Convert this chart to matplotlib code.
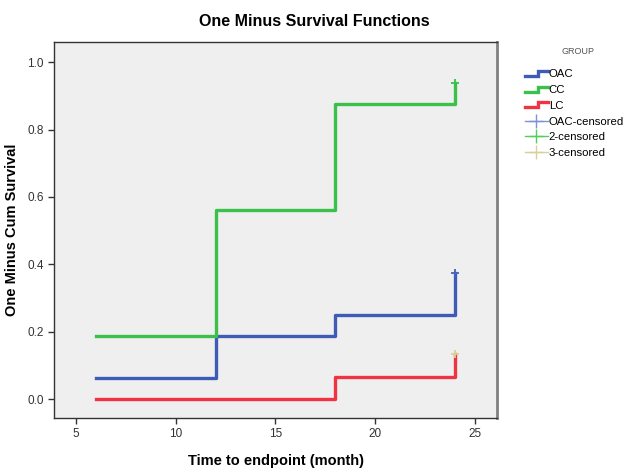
import matplotlib
matplotlib.use('Agg')
import matplotlib.pyplot as plt
from matplotlib.legend_handler import HandlerBase
from matplotlib.lines import Line2D

plt.rcParams['font.family'] = ['Liberation Sans', 'DejaVu Sans']

# step data (time, one minus cum survival)
t_oac = [6, 12, 18, 24]
y_oac = [0.0625, 0.1875, 0.25, 0.375]
t_cc = [6, 12, 18, 24]
y_cc = [0.1875, 0.5625, 0.875, 0.9375]
t_lc = [6, 18, 24]
y_lc = [0.0, 0.0667, 0.1333]

# censored points
cens_t = [24, 24, 24]
cens_y = [0.375, 0.9375, 0.1333]

groups = ['OAC', 'CC', 'LC']
cens_labels = ['OAC-censored', '2-censored', '3-censored']
colors = ['#3e5bb5', '#3cc04c', '#ef3340']
cens_colors = ['#4563bb', '#3cc04c', '#d9cf9a']
cens_leg_colors = ['#7f93d4', '#55cc60', '#d9cf9a']


class StepHandler(HandlerBase):
    def create_artists(self, legend, orig_handle, xdescent, ydescent,
                       width, height, fontsize, trans):
        w, h = width, height
        xs = [0, w * 0.55, w * 0.55, w]
        ys = [h * 0.2, h * 0.2, h * 0.8, h * 0.8]
        ln = Line2D(xs, ys, color=orig_handle.get_color(), lw=2.4,
                    solid_joinstyle='miter', transform=trans)
        return [ln]


fig = plt.figure(figsize=(6.29, 4.70), dpi=100)
ax = fig.add_axes([54 / 629, 1 - 418 / 470, 443 / 629, 376 / 470])
ax.set_facecolor('#efefef')

handles = []
for t, y, c, g in zip([t_oac, t_cc, t_lc], [y_oac, y_cc, y_lc], colors, groups):
    h, = ax.step(t, y, where='post', color=c, lw=2.4, label=g)
    handles.append(h)

for x, y, c in zip(cens_t, cens_y, cens_colors):
    ax.plot([x], [y], marker='+', ms=6, mew=1.3, color=c, ls='none')

chandles = [Line2D([], [], color=c, lw=1, marker='+', ms=10, mew=1)
            for c in cens_leg_colors]

ax.set_xlim(3.9, 26.1)
ax.set_ylim(-0.056, 1.06)
ax.set_xticks([5, 10, 15, 20, 25])
ax.set_yticks([0.0, 0.2, 0.4, 0.6, 0.8, 1.0])
ax.set_yticklabels(['0.0', '0.2', '0.4', '0.6', '0.8', '1.0'])
ax.tick_params(labelsize=8.5, colors='#333333', length=4, width=1)

for s in ['left', 'bottom', 'top']:
    ax.spines[s].set_color('#333333')
    ax.spines[s].set_linewidth(1)
ax.spines['right'].set_color('#808080')
ax.spines['right'].set_linewidth(2)

ax.set_xlabel('Time to endpoint (month)', fontsize=10.5, fontweight='bold',
              labelpad=10)
ax.set_ylabel('One Minus Cum Survival', fontsize=10.5, fontweight='bold',
              labelpad=6)
fig.suptitle('One Minus Survival Functions', fontsize=11.5, fontweight='bold',
             y=0.97)

fig.text(578 / 629, 1 - 51 / 470, 'GROUP', fontsize=6.5, color='#555555',
         ha='center', va='center')
leg = fig.legend(handles + chandles, groups + cens_labels,
                 handler_map={h: StepHandler() for h in handles},
                 loc='upper left', bbox_to_anchor=(0.818, 0.874),
                 frameon=False, fontsize=8.2,
                 handlelength=2.05, handletextpad=0.05,
                 labelspacing=0.5)

fig.savefig('out.png', dpi=100)
